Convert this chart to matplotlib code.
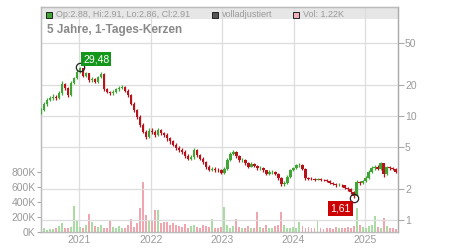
#!/usr/bin/env python3
import matplotlib
matplotlib.use('Agg')
import matplotlib.pyplot as plt
import matplotlib.dates as mdates
from matplotlib.patches import Rectangle
from matplotlib.ticker import FixedLocator, FixedFormatter, NullLocator
import numpy as np
import pandas as pd

plt.rcParams['font.family'] = ['Liberation Sans', 'DejaVu Sans']

# one candle roughly every 15 days
closes = [11.4, 13.0, 14.2, 14.8, 15.3, 15.0, 16.5, 20.5, 18.6, 16.0,
          21.0, 23.0, 26.6, 29.0, 24.5, 25.7, 22.0, 22.8, 21.3, 23.5,
          25.5, 18.0, 17.1, 16.5, 17.1, 18.0, 18.8, 19.1, 17.5, 16.0,
          13.2, 11.4, 9.8, 8.2, 7.1, 6.3, 7.2, 7.0, 6.6, 7.3,
          6.8, 6.6, 6.1, 5.7, 5.3, 4.9, 4.7, 4.5, 4.1, 3.9,
          4.0, 4.7, 4.2, 3.9, 3.6, 3.2, 3.05, 3.1, 3.05, 3.0,
          2.85, 3.1, 3.8, 4.3, 4.5, 4.1, 3.8, 3.8, 3.5, 3.25,
          3.45, 3.3, 3.15, 3.15, 3.0, 2.8, 2.9, 2.9, 2.8, 2.55,
          2.2, 2.25, 2.6, 3.0, 3.15, 3.35, 3.4, 3.1, 2.55, 2.5,
          2.48, 2.45, 2.47, 2.45, 2.42, 2.35, 2.28, 2.22, 2.17, 2.18,
          2.15, 2.05, 1.98, 1.85, 1.72, 2.3, 2.25, 2.35, 2.55, 2.9,
          3.15, 3.25, 3.1, 3.5, 2.75, 3.2, 3.15, 3.1, 2.91]
first_open = 10.8
highs = [12.0, 13.6, 14.8, 15.6, 16.2, 16.0, 17.6, 21.5, 21.0, 19.0,
         21.8, 24.0, 27.6, 29.48, 29.2, 26.8, 26.2, 23.8, 23.4, 24.4,
         26.6, 26.0, 18.6, 17.6, 17.8, 18.8, 19.6, 20.0, 19.6, 18.0,
         16.4, 13.6, 11.8, 10.2, 8.5, 7.4, 7.6, 7.6, 7.3, 7.6,
         7.5, 7.1, 6.8, 6.3, 5.9, 5.5, 5.1, 4.9, 4.7, 4.3,
         4.2, 4.9, 4.8, 4.3, 4.0, 3.7, 3.35, 3.25, 3.2, 3.15,
         3.1, 3.2, 3.95, 4.5, 4.75, 4.6, 4.2, 3.95, 3.9, 3.6,
         3.6, 3.55, 3.4, 3.3, 3.25, 3.05, 3.0, 3.0, 2.95, 2.85,
         2.6, 2.35, 2.7, 3.1, 3.25, 3.45, 3.55, 3.45, 3.15, 2.62,
         2.58, 2.55, 2.55, 2.53, 2.5, 2.46, 2.4, 2.32, 2.28, 2.25,
         2.24, 2.18, 2.1, 2.02, 1.9, 2.45, 2.38, 2.42, 2.65, 3.0,
         3.3, 3.4, 3.35, 3.6, 3.55, 3.3, 3.3, 3.25, 3.15]
lows = [10.5, 11.2, 12.6, 13.8, 14.2, 14.3, 14.6, 16.0, 17.8, 15.4,
        15.6, 20.4, 22.5, 26.0, 23.8, 23.6, 21.3, 21.4, 20.6, 20.8,
        23.0, 17.4, 16.5, 15.9, 16.0, 16.6, 17.5, 18.2, 16.9, 15.4,
        12.7, 11.0, 9.4, 7.9, 6.8, 6.0, 6.1, 6.7, 6.3, 6.4,
        6.5, 6.3, 5.8, 5.4, 5.1, 4.7, 4.5, 4.3, 3.95, 3.75,
        3.75, 3.9, 4.0, 3.75, 3.45, 3.1, 2.95, 2.95, 2.9, 2.88,
        2.75, 2.78, 3.0, 3.7, 4.2, 3.95, 3.65, 3.65, 3.4, 3.15,
        3.2, 3.2, 3.05, 3.05, 2.9, 2.7, 2.72, 2.8, 2.7, 2.45,
        2.12, 2.12, 2.2, 2.55, 2.95, 3.1, 3.25, 3.0, 2.45, 2.42,
        2.42, 2.38, 2.4, 2.38, 2.36, 2.3, 2.22, 2.15, 2.1, 2.12,
        2.08, 1.98, 1.9, 1.78, 1.61, 1.7, 2.15, 2.2, 2.3, 2.5,
        2.85, 3.05, 3.0, 3.05, 2.6, 2.7, 3.05, 3.0, 2.86]

# volume in thousands
volumes = [40, 50, 30, 45, 35, 55, 80, 120, 60, 50,
           70, 347, 160, 70, 60, 90, 240, 140, 80, 70,
           90, 60, 55, 160, 70, 60, 80, 50, 60, 90,
           170, 70, 120, 320, 670, 230, 150, 150, 290, 290,
           120, 130, 140, 100, 120, 90, 80, 70, 110, 60,
           80, 100, 70, 60, 90, 80, 70, 170, 60, 50,
           70, 340, 90, 60, 80, 180, 70, 50, 60, 80,
           50, 60, 270, 70, 60, 90, 50, 60, 80, 100,
           270, 90, 60, 50, 70, 60, 130, 80, 60, 70,
           50, 60, 150, 50, 40, 60, 50, 40, 70, 50,
           60, 50, 70, 60, 80, 320, 90, 70, 60, 80,
           90, 217, 70, 60, 187, 80, 60, 50, 40]

legend_labels = ['Op:2.88, Hi:2.91, Lo:2.86, Cl:2.91', 'volladjustiert', 'Vol: 1.22K']
title = '5 Jahre, 1-Tages-Kerzen'

dates = pd.date_range('2020-06-19', '2025-06-06', periods=len(closes))
opens = [first_open] + closes[:-1]
up = np.array(closes) >= np.array(opens)

green = '#3fa535'
red = '#b8121b'
vgreen = '#a9dca3'
vpink = '#f0a6ae'
tcol = '#9a9a9a'

fig = plt.figure(figsize=(4.5, 2.5), dpi=100)
vax = fig.add_axes([41/450, 18/250, 357/450, 225/250])
ax = vax.twinx()

# volume
vcols = [vgreen if u else vpink for u in up]
vax.bar(dates, volumes, width=10, color=vcols, zorder=2)
vax.set_ylim(0, 3000)
vax.yaxis.set_major_locator(FixedLocator([0, 200, 400, 600, 800]))
vax.yaxis.set_major_formatter(FixedFormatter(['0K', '200K', '400K', '600K', '800K']))
vax.tick_params(axis='y', colors='#aaaaaa', labelcolor=tcol, labelsize=7.5, length=3, pad=1)

# grey legend band at the top of the plot
vax.add_patch(Rectangle((0, (232-19)/225), 1, 12/225, transform=vax.transAxes,
                        facecolor='#e6e6e6', edgecolor='none', zorder=0.1))

# candles
ccols = [green if u else red for u in up]
ax.vlines(dates, lows, highs, colors=ccols, lw=0.9, zorder=3)
lo = np.minimum(opens, closes)
hi = np.maximum(opens, closes)
ax.bar(dates, hi - lo, bottom=lo, width=12, color=ccols, zorder=3)
ax.set_yscale('log')
ax.set_ylim(0.7666, 111.9)
ax.yaxis.set_major_locator(FixedLocator([1, 2, 5, 10, 20, 50]))
ax.yaxis.set_major_formatter(FixedFormatter(['1', '2', '5', '10', '20', '50']))
ax.yaxis.set_minor_locator(NullLocator())
ax.tick_params(axis='y', colors='#aaaaaa', labelcolor=tcol, labelsize=7.5, length=4, pad=1)
ax.grid(True, axis='y', color='#dddddd', lw=0.9, zorder=0)

# highest high / lowest low markers
i_hi = int(np.argmax(highs))
i_lo = int(np.argmin(lows))
ax.plot(dates[i_hi], highs[i_hi], 'o', mfc='none', mec='#222222', ms=6, mew=0.9, zorder=5)
ax.plot(dates[i_lo], lows[i_lo], 'o', mfc='none', mec='#222222', ms=6, mew=0.9, zorder=5)
ax.annotate(f'{highs[i_hi]:.2f}'.replace('.', ','), xy=(dates[i_hi], highs[i_hi]), xytext=(3, 8),
            textcoords='offset pixels', ha='left', va='center', color='white', fontsize=7.5,
            bbox=dict(boxstyle='square,pad=0.2', fc='#12971a', ec='none'), zorder=6)
ax.annotate(f'{lows[i_lo]:.2f}'.replace('.', ','), xy=(dates[i_lo], lows[i_lo]), xytext=(-13, -10),
            textcoords='offset pixels', ha='center', va='center', color='white', fontsize=7.5,
            bbox=dict(boxstyle='square,pad=0.2', fc='#cc0000', ec='none'), zorder=6)

# x axis
vax.set_xlim(pd.Timestamp('2020-06-19'), pd.Timestamp('2025-06-18'))
vax.xaxis.set_major_locator(mdates.YearLocator())
vax.xaxis.set_major_formatter(mdates.DateFormatter('%Y'))
vax.tick_params(axis='x', length=0, labelcolor=tcol, labelsize=7.5, pad=2)
vax.grid(True, axis='x', color='#dddddd', lw=0.9)

for a in (vax, ax):
    for s in a.spines.values():
        s.set_color('#bbbbbb')
        s.set_linewidth(0.9)
ax.spines['right'].set_color('#aaaaaa')

# legend entries
lx = [46, 212, 293]
for x, lab, c in zip(lx, legend_labels, [green, '#555555', '#f0b0b8']):
    fig.add_artist(Rectangle((x/450, 1-17.5/250), 6/450, 6/250, transform=fig.transFigure,
                             facecolor=c, edgecolor='#222222', lw=0.7))
    fig.text((x+10)/450, 1-14.5/250, lab, color=tcol, fontsize=6.5, va='center', ha='left')

fig.text(47/450, 1-30/250, title, color='#888888', fontsize=8.5, fontweight='bold',
         va='center', ha='left')

fig.savefig('out.png', dpi=100)
